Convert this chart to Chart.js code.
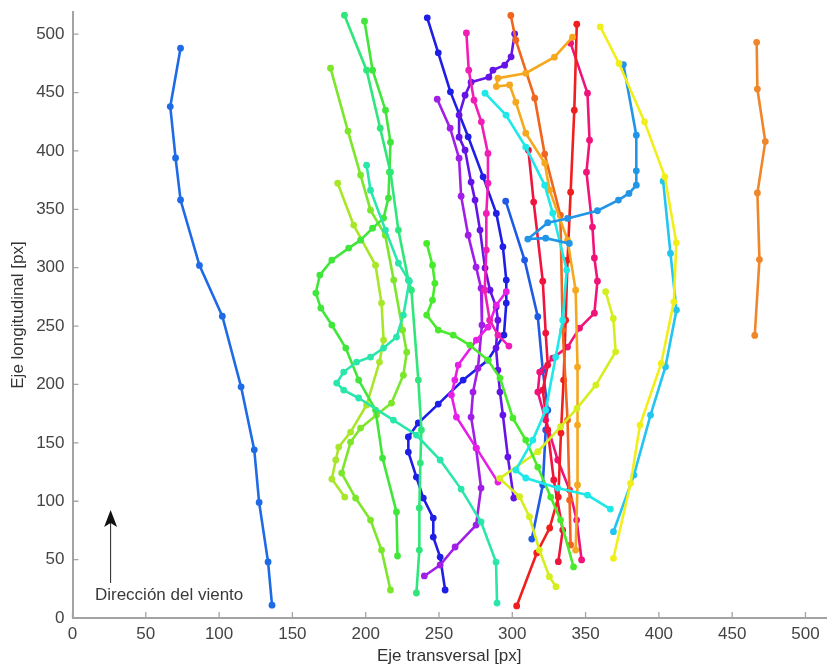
<!DOCTYPE html>
<html>
<head>
<meta charset="utf-8">
<script src="https://cdn.jsdelivr.net/npm/chart.js@4.4.0/dist/chart.umd.min.js"></script>
<style>
  html, body { margin: 0; padding: 0; background: #fff; }
  #wrap { width: 830px; height: 669px; }
</style>
</head>
<body>
<div id="wrap"><canvas id="trayectorias" width="830" height="669"></canvas></div>
<script>
// Trayectorias de las semillas: eje transversal (x) y eje longitudinal (y), en px
const azulIzqX = [73.7, 66.7, 70.3, 73.7, 86.6, 102.2, 115, 124, 127.3, 133.4, 136.1];
const azulIzqY = [488, 438, 394, 358, 302, 258.5, 198, 144, 99, 48, 11];

const naranjaDerX = [466.7, 467.2, 472.6, 467.2, 468.6, 465.4];
const naranjaDerY = [493, 453, 408, 364, 307, 242];

const amarilloX = [360, 372.8, 390.2, 404.1, 411.9, 410.2, 401.6, 387.1, 380.7, 369];
const amarilloY = [506.3, 474.9, 424.9, 377.8, 321.3, 270.8, 218, 165.2, 115.3, 51.1];

const celesteX = [402.9, 407.9, 412, 404.5, 394.3, 383, 369];
const celesteY = [374.1, 312.2, 263.7, 215.2, 173.8, 122.4, 73.9];

const cieloX = [375.8, 384.6, 384.6, 384.6, 379.6, 372.4, 358.1, 337.7, 324.2, 310.6, 322.8, 338.9];
const cieloY = [474, 413.5, 383, 370.7, 363.6, 357.9, 348.8, 342.2, 338.6, 324.5, 325.3, 320.8];

const cianX = [281.4, 295.7, 309.2, 322.1, 327.6, 337.1, 334.4, 329.6, 322.8, 314, 302.4, 309.2, 331, 351.3, 366.9];
const cianY = [449.5, 430.7, 403.3, 370.7, 346.7, 298, 255.1, 223.5, 178.1, 152.4, 126.7, 119.9, 111.3, 105.3, 93.3];

const aguamarinaX = [200.6, 203.3, 213.5, 222.3, 229.8, 225.7, 221, 212.2, 203.3, 193.8, 185, 180.2, 185, 195.2, 218.9, 234.6, 250.8, 265.1, 278.7, 288.9, 289.6];
const aguamarinaY = [387.8, 366.4, 332.2, 303.9, 288.5, 259.4, 240.6, 231.2, 223.5, 219.2, 210.6, 201.2, 195.2, 188.4, 169.5, 156.7, 135.3, 110.4, 82.2, 47.9, 12.8];

const primaveraX = [185.5, 200.6, 209.9, 216.9, 222.3, 229.1, 231.2, 235.9, 238, 237.3, 236.6, 236.6, 234.6];
const primaveraY = [516.3, 469.2, 419.5, 381.8, 332.2, 289.4, 280.8, 203.8, 161, 132.7, 94.2, 58.2, 21.4];

const verdeX = [199.2, 204.7, 213.5, 216.9, 216.2, 215.5, 212.2, 204.7, 196.5, 188.4, 176.9, 168.7, 166, 169.4, 176.9, 186.4, 195.2, 206.7, 211.5, 221, 221.7];
const verdeY = [511.1, 469.2, 434.9, 407.5, 381.8, 359.6, 342.5, 333.9, 323.6, 316.8, 306.5, 293.7, 278.3, 265.4, 250.9, 231.2, 203.8, 178.1, 137, 90.8, 53.1];

const verdeClaroX = [241.6, 245.6, 247.2, 245.6, 241.6, 249.5, 259.7, 271, 283.4, 291.6, 300.4, 309.2, 317.4, 326.2, 332.9, 341.8];
const verdeClaroY = [320.8, 302.2, 286.6, 272.3, 259.4, 246.6, 242.3, 233.7, 220.9, 205.5, 171.2, 152.4, 129.3, 103.6, 83.9, 43.7];

const limaVerdeX = [176, 187.9, 196.5, 203.3, 213.3, 219.1, 225.2, 228, 225.7, 217.6, 207.4, 196.5, 189.7, 183.6, 193.1, 203.3, 210.8, 216.9];
const limaVerdeY = [470.9, 417, 379.3, 349.3, 327.9, 289.4, 246.6, 227.7, 208, 184.1, 173.8, 162.7, 150.7, 124.1, 102.7, 83.9, 58.2, 24];

const limaX = [180.9, 191.8, 206.7, 210.8, 212.2, 209.4, 200.6, 189.7, 181.6, 179.6, 176.9, 185.7];
const limaY = [372.4, 336.5, 302.2, 269.7, 238, 219.2, 182.4, 159.2, 146.4, 135.3, 119, 103.6];

const amarilloLimaX = [363.7, 368.9, 370.5, 357, 344.1, 333, 317.4, 291.4, 305, 311.7, 318.5, 325.3, 329.8];
const amarilloLimaY = [279.4, 256.6, 228, 199.5, 179.5, 163.8, 142.4, 119.6, 103.9, 86.7, 58.2, 35.4, 26.8];

const ambarX = [341.1, 328.7, 309.2, 290.2, 289.1, 298.2, 302.4, 309.2, 322.1, 325.5, 337.7, 343.2, 344.5, 344.5, 344.5, 343.2];
const ambarY = [497.4, 480.3, 466.6, 462.3, 455.1, 456.5, 441.8, 415.2, 389.6, 366.4, 323.6, 280.8, 214.9, 165.2, 113.9, 58.2];

const naranjaRojoX = [299, 302.4, 315.3, 322.1, 332.8, 334.4, 337.7, 339.1, 339.8];
const naranjaRojoY = [516, 494.9, 445.2, 397.3, 345, 246.6, 169.5, 101, 62.5];

const rojoX = [303, 316.7, 325.5, 331.4, 333.2, 335, 336.4, 337.7, 339.8, 342.3, 344];
const rojoY = [10.3, 55.7, 77.1, 103.6, 158.4, 203.8, 255.1, 306.5, 364.7, 434.9, 508.6];

const carmesiX = [311, 314.6, 320.8, 322.8, 324.2, 320.8, 324.2, 328.3, 334.4, 331.4];
const carmesiY = [400.7, 356.2, 288.5, 244, 216.6, 195.2, 161, 118.2, 75.3, 48.2];

const rosaX = [339.8, 351.3, 352.7, 350.6, 354.7, 356, 358.1, 356, 345.9, 337.7, 327.6, 318.7, 317.4, 322.8, 331, 339.1, 343.9, 347.3];
const rosaY = [492.3, 449.5, 409.2, 381.8, 334.8, 308.3, 288.5, 261.1, 248.3, 232, 222.6, 210.6, 193.5, 169.5, 135.3, 109.6, 83.9, 49.7];

const fucsiaX = [268.7, 270.3, 273.9, 278.9, 283.4, 283.4, 282.3, 282.3, 281.2, 284.6, 290.2, 297.7];
const fucsiaY = [501.1, 469.2, 443.5, 424.9, 397.9, 372.4, 346.5, 315.1, 280.8, 255.1, 242.3, 232.9];

const magentaX = [295.9, 289.1, 283.4, 275.5, 263.1, 260.8, 258.5, 261.9, 275.5, 290.2];
const magentaY = [279.4, 268, 249.1, 238, 216.6, 203.8, 190.9, 172.1, 145.5, 116.4];

const purpuraX = [248.8, 257.6, 263.7, 265.1, 269.9, 275.3, 278.7, 279.3, 276.6, 273.2, 271.9, 275.3, 278.7, 275.3, 261, 250.8, 240];
const purpuraY = [444.3, 419.5, 393.8, 361.3, 327.9, 300.5, 282.5, 250.9, 214, 193.5, 172.1, 145.5, 111.3, 79.6, 60.8, 45.4, 36];

const indigoX = [301.6, 299.2, 294.8, 286.8, 284, 271.9, 267.8, 263.7, 263.7, 267.8, 271.9, 274.6, 278, 281.4, 284.8, 289, 290.2, 288.9, 290.2, 291.6, 293.6, 297, 301];
const indigoY = [500.3, 480.6, 473.5, 469.2, 463.2, 458.9, 447.8, 430.7, 411.8, 400.7, 373.3, 357.9, 332.2, 299.7, 280.8, 266.3, 255.1, 231.2, 212.3, 193.5, 173.8, 137.8, 102.7];

const azulOscuroX = [242, 249.5, 257.8, 269.9, 280.1, 289.1, 293.6, 295.9, 295.9, 294.3, 283.4, 266.5, 249.5, 235.9, 229.1, 229.1, 234.6, 239.3, 246.1, 246.1, 250.8, 254.2];
const azulOscuroY = [514, 484, 450.6, 412.1, 377.8, 346.5, 317.9, 289.4, 269.7, 242.3, 220.9, 203.8, 183.2, 167, 155, 142.1, 120.7, 102.7, 85.6, 69.3, 52.2, 24];

const azulX = [295.5, 308.4, 317.4, 320.8, 324.2, 322.8, 320.8, 313.3];
const azulY = [357, 306.5, 258, 212.3, 178, 161, 113.9, 67.6];

// Marcas de los ejes
const ticksX = [0, 50, 100, 150, 200, 250, 300, 350, 400, 450, 500];
const ticksY = [0, 50, 100, 150, 200, 250, 300, 350, 400, 450, 500];

// cada trayectoria con su color (paleta tipo hsv)
const series = [
  [azulIzqX, azulIzqY, '#1f6be6'],
  [naranjaDerX, naranjaDerY, '#f0862a'],
  [amarilloX, amarilloY, '#f2ee1a'],
  [celesteX, celesteY, '#22c4f0'],
  [cieloX, cieloY, '#2196e8'],
  [cianX, cianY, '#1ee8e8'],
  [aguamarinaX, aguamarinaY, '#2ae6aa'],
  [primaveraX, primaveraY, '#2ee67a'],
  [verdeX, verdeY, '#40e63a'],
  [verdeClaroX, verdeClaroY, '#48ea2c'],
  [limaVerdeX, limaVerdeY, '#7ce62a'],
  [limaX, limaY, '#a8e62a'],
  [amarilloLimaX, amarilloLimaY, '#d4ee1e'],
  [ambarX, ambarY, '#f5a81e'],
  [naranjaRojoX, naranjaRojoY, '#f0661e'],
  [rojoX, rojoY, '#f01e1e'],
  [carmesiX, carmesiY, '#f0143c'],
  [rosaX, rosaY, '#f0147a'],
  [fucsiaX, fucsiaY, '#f01eb4'],
  [magentaX, magentaY, '#e61ee6'],
  [purpuraX, purpuraY, '#a01ee6'],
  [indigoX, indigoY, '#6414e6'],
  [azulOscuroX, azulOscuroY, '#1e1ee6'],
  [azulX, azulY, '#1e5ae6'],
];

const fuente = '"Liberation Sans", Arial, Helvetica, sans-serif';
const grisEje = '#a3a3a3';

// Flecha con la dirección del viento (en unidades de los ejes)
const flechaX = 26;
const flechaDesde = 30;
const flechaHasta = 92.5;
const textoViento = 'Dirección del viento';

//Dibuja las marcas de los ejes hacia dentro del área
const marcasInternas = {
  id: 'marcasInternas',
  beforeDatasetsDraw(chart) {
    const { ctx, chartArea, scales } = chart;
    ctx.save();
    ctx.strokeStyle = grisEje;
    ctx.lineWidth = 1.3;
    ctx.beginPath();
    ticksX.forEach((v) => {
      const px = scales.x.getPixelForValue(v);
      ctx.moveTo(px, chartArea.bottom);
      ctx.lineTo(px, chartArea.bottom - 6);
    });
    ticksY.forEach((v) => {
      const py = scales.y.getPixelForValue(v);
      ctx.moveTo(chartArea.left, py);
      ctx.lineTo(chartArea.left + 6, py);
    });
    ctx.stroke();
    ctx.restore();
  },
};

//Flecha y texto de la dirección del viento
const flechaViento = {
  id: 'flechaViento',
  afterDatasetsDraw(chart) {
    const { ctx, scales } = chart;
    const x = scales.x.getPixelForValue(flechaX);
    const y0 = scales.y.getPixelForValue(flechaDesde);
    const y1 = scales.y.getPixelForValue(flechaHasta);
    ctx.save();
    ctx.strokeStyle = '#222';
    ctx.fillStyle = '#111';
    ctx.lineWidth = 1;
    ctx.beginPath();
    ctx.moveTo(x, y0);
    ctx.lineTo(x, y1 + 12);
    ctx.stroke();
    // punta de flecha
    ctx.beginPath();
    ctx.moveTo(x, y1);
    ctx.lineTo(x - 6.5, y1 + 17);
    ctx.lineTo(x, y1 + 13);
    ctx.lineTo(x + 6.5, y1 + 17);
    ctx.closePath();
    ctx.fill();
    ctx.fillStyle = '#3a3a3a';
    ctx.font = '17px ' + fuente;
    ctx.textBaseline = 'middle';
    ctx.textAlign = 'left';
    ctx.fillText(textoViento, scales.x.getPixelForValue(15.3), scales.y.getPixelForValue(19.7));
    ctx.restore();
  },
};

const ctx = document.getElementById('trayectorias').getContext('2d');

new Chart(ctx, {
  type: 'scatter',
  data: {
    datasets: series.map(([xs, ys, color]) => ({
      data: xs.map((x, i) => ({ x: x, y: ys[i] })),
      showLine: true,
      borderColor: color,
      backgroundColor: color,
      borderWidth: 2.6,
      pointRadius: 3.4,
      pointBorderWidth: 0,
      pointBackgroundColor: color,
      tension: 0,
    })),
  },
  options: {
    responsive: false,
    devicePixelRatio: 1,
    animation: false,
    layout: { padding: { top: 12, right: 0, left: 0, bottom: 0 } },
    plugins: {
      legend: { display: false },
      tooltip: { enabled: false },
    },
    scales: {
      x: {
        type: 'linear',
        min: 0,
        max: 514,
        afterFit: (scale) => {
          scale.height = 51;
          scale.paddingLeft = 0;
          scale.paddingRight = 0;
        },
        afterBuildTicks: (scale) => { scale.ticks = ticksX.map((v) => ({ value: v })); },
        grid: { display: false, drawTicks: false },
        border: { display: true, color: grisEje, width: 2 },
        ticks: {
          color: '#444',
          padding: 6,
          maxRotation: 0,
          font: { size: 17, family: fuente },
        },
        title: {
          display: true,
          text: 'Eje transversal [px]',
          color: '#333',
          font: { size: 17, family: fuente },
          padding: { top: 0, bottom: 2 },
        },
      },
      y: {
        type: 'linear',
        min: 0,
        max: 519,
        afterFit: (scale) => {
          scale.width = 72.5;
          scale.paddingTop = 0;
          scale.paddingBottom = 0;
        },
        afterBuildTicks: (scale) => { scale.ticks = ticksY.map((v) => ({ value: v })); },
        grid: { display: false, drawTicks: false },
        border: { display: true, color: grisEje, width: 2 },
        ticks: {
          color: '#444',
          padding: 8,
          font: { size: 17, family: fuente },
        },
        title: {
          display: true,
          text: 'Eje longitudinal [px]',
          color: '#333',
          font: { size: 17, family: fuente },
          padding: { top: 8, bottom: 0 },
        },
      },
    },
  },
  plugins: [marcasInternas, flechaViento],
});
</script>
</body>
</html>
